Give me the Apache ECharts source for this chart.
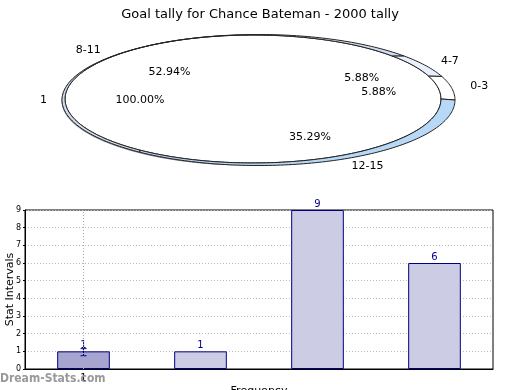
<!DOCTYPE html>
<html>
<head>
<meta charset="utf-8">
<script src="https://cdn.jsdelivr.net/npm/echarts@6/dist/echarts.min.js"></script>
<style>
html,body{margin:0;padding:0;background:#fff;}
#c{width:520px;height:390px;}
</style>
</head>
<body>
<div id="c"></div>
<script>
// ---- data ----
const chartTitle = 'Goal tally for Chance Bateman - 2000 tally';
const innerNames = ['1'];
const innerValues = [17];
const ringNames = ['0-3', '4-7', '8-11', '12-15'];
const ringValues = [1, 1, 9, 6];
const barCategories = ['0-3', '4-7', '8-11', '12-15'];
const barValues = [1, 1, 9, 6];
const xTickLabels = ['1', '', '', ''];
const errorBars = [[0, 0.75, 1.15]]; // [categoryIndex, low, high]
const yMin = 0, yMax = 9, yStep = 1;

// ---- styles / geometry ----
const ringColors = ['#ffffff', '#e8f0fc', '#d0dcf0', '#b8d8f8'];
const INNER = {cx: 253, cy: 99, rx: 188, ry: 64};
const OUTER = {cx: 258.5, cy: 100, rx: 196.5, ry: 65.5};
const FONT = 'DejaVu Sans';

function ePt(e, a) { return [e.cx + e.rx * Math.cos(a), e.cy - e.ry * Math.sin(a)]; }
function arcPts(e, a0, a1) {
  const n = Math.max(4, Math.ceil(Math.abs(a1 - a0) / 0.02));
  const pts = [];
  for (let i = 0; i <= n; i++) pts.push(ePt(e, a0 + (a1 - a0) * i / n));
  return pts;
}
function labelEls(name, pct, mid) {
  const c = Math.cos(mid), s = Math.sin(mid);
  const nx = 253 + (c > 0 ? 221 : 206) * c, ny = 100 - 74 * s;
  const px = 253 + (c > 0 ? 128 : 113) * c, py = 100 - 41 * s;
  return [
    {type: 'text', x: nx, y: ny, z2: 20, style: {text: name, fill: '#000', font: '11px ' + FONT, align: c > 0 ? 'left' : 'right', verticalAlign: 'middle'}},
    {type: 'text', x: px, y: py, z2: 20, style: {text: pct, fill: '#000', font: '11px ' + FONT, align: 'center', verticalAlign: 'middle'}}
  ];
}
const ringTotal = ringValues.reduce((a, b) => a + b, 0);
const innerTotal = innerValues.reduce((a, b) => a + b, 0);

function renderRing(params, api) {
  const i = params.dataIndex;
  let before = 0;
  for (let k = 0; k < i; k++) before += ringValues[k];
  const v = api.value(0);
  const a0 = before / ringTotal * 2 * Math.PI;
  const a1 = (before + v) / ringTotal * 2 * Math.PI;
  const pts = arcPts(OUTER, a0, a1).concat(arcPts(INNER, a1, a0));
  const pct = (v / ringTotal * 100).toFixed(2) + '%';
  return {type: 'group', children: [
    {type: 'polygon', shape: {points: pts}, style: {fill: ringColors[i], stroke: '#222', lineWidth: 1}}
  ].concat(labelEls(ringNames[i], pct, (a0 + a1) / 2))};
}
function renderInner(params, api) {
  const i = params.dataIndex;
  let before = 0;
  for (let k = 0; k < i; k++) before += innerValues[k];
  const v = api.value(0);
  const a0 = before / innerTotal * 2 * Math.PI;
  const a1 = (before + v) / innerTotal * 2 * Math.PI;
  const pct = (v / innerTotal * 100).toFixed(2) + '%';
  const full = (a1 - a0) >= 2 * Math.PI - 1e-9;
  const shape = full
    ? {type: 'ellipse', shape: {cx: INNER.cx, cy: INNER.cy, rx: INNER.rx, ry: INNER.ry}, style: {fill: '#fff', stroke: '#222', lineWidth: 1}}
    : {type: 'polygon', shape: {points: [[INNER.cx, INNER.cy]].concat(arcPts(INNER, a0, a1))}, style: {fill: '#fff', stroke: '#222', lineWidth: 1}};
  return {type: 'group', children: [
    {type: 'ellipse', shape: {cx: INNER.cx - 2.5, cy: INNER.cy + 1.5, rx: INNER.rx, ry: INNER.ry}, style: {fill: 'none', stroke: '#888', lineWidth: 2}},
    shape
  ].concat(labelEls(innerNames[i], pct, full ? Math.PI : (a0 + a1) / 2))};
}

function renderError(params, api) {
  const x = api.coord([api.value(0), api.value(1)])[0];
  const yl = api.coord([api.value(0), api.value(1)])[1];
  const yh = api.coord([api.value(0), api.value(2)])[1];
  const st = {stroke: '#000080', lineWidth: 1};
  return {type: 'group', children: [
    {type: 'line', shape: {x1: x, y1: yl, x2: x, y2: yh}, style: st},
    {type: 'line', shape: {x1: x - 3, y1: yl, x2: x + 3, y2: yl}, style: st},
    {type: 'line', shape: {x1: x - 3, y1: yh, x2: x + 3, y2: yh}, style: st}
  ]};
}

const chart = echarts.init(document.getElementById('c'), null, {renderer: 'canvas'});
chart.setOption({
  animation: false,
  backgroundColor: '#fff',
  title: {text: chartTitle, left: 'center', top: 3, textStyle: {fontFamily: FONT, fontSize: 13, fontWeight: 'normal', color: '#000'}},
  grid: {left: 25, right: 27, top: 210, bottom: 21, show: true, borderColor: '#000', borderWidth: 1, containLabel: false, outerBoundsMode: 'none'},
  xAxis: {
    type: 'category', data: barCategories,
    name: 'Frequency', nameLocation: 'middle', nameGap: 17, nameMoveOverlap: false,
    nameTextStyle: {fontFamily: FONT, fontSize: 11, color: '#000'},
    axisLine: {show: true, lineStyle: {color: '#000'}},
    axisTick: {show: false},
    axisLabel: {formatter: (v, i) => xTickLabels[i], fontFamily: FONT, fontSize: 10, color: '#000', margin: 4},
    splitLine: {show: false}
  },
  yAxis: {
    type: 'value', min: yMin, max: yMax, interval: yStep,
    name: 'Stat Intervals', nameLocation: 'middle', nameGap: 9, nameRotate: 90, nameMoveOverlap: false,
    nameTextStyle: {fontFamily: FONT, fontSize: 11, color: '#000'},
    axisLine: {show: true, lineStyle: {color: '#000'}},
    axisTick: {show: true, length: 2, lineStyle: {color: '#000'}},
    axisLabel: {fontFamily: FONT, fontSize: 8, color: '#000', margin: 4},
    splitLine: {show: true, lineStyle: {color: '#bbb', type: [1, 2], width: 1}}
  },
  series: [
    {type: 'custom', coordinateSystem: 'none', data: innerValues, renderItem: renderInner, silent: true, z: 1},
    {type: 'custom', coordinateSystem: 'none', data: ringValues, renderItem: renderRing, silent: true, z: 2},
    {
      type: 'bar', data: barValues.map((v, i) => ({value: v, itemStyle: {color: i === 0 ? '#a5a5d0' : '#ccccE4'}})),
      barWidth: '45%',
      itemStyle: {borderColor: '#000080', borderWidth: 1},
      label: {show: true, position: 'top', distance: 1, color: '#000080', fontFamily: FONT, fontSize: 10},
      markLine: {silent: true, symbol: 'none', label: {show: false}, lineStyle: {color: '#aaa', type: [1, 2], width: 1}, data: [{xAxis: barCategories[0]}]},
      z: 3
    },
    {type: 'custom', data: errorBars, renderItem: renderError, encode: {x: 0, y: [1, 2]}, z: 4}
  ],
  graphic: [
    {type: 'text', left: 0, top: 373, style: {text: 'Dream-Stats.com', fill: '#999', font: 'bold 12px "DejaVu Sans Condensed"'}, z: 10}
  ]
});
</script>
</body>
</html>
